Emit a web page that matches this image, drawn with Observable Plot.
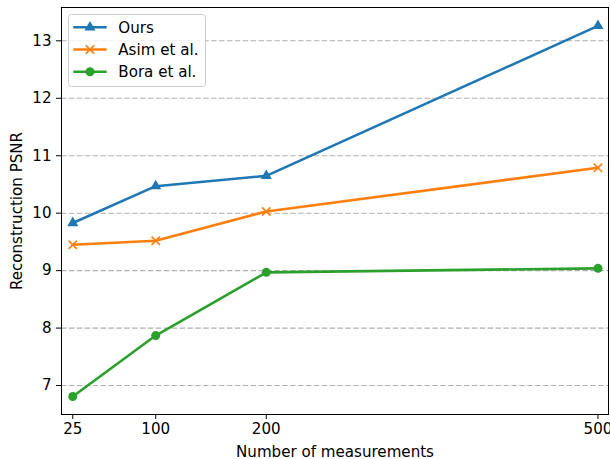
<!DOCTYPE html>
<html><head><meta charset="utf-8">
<script src="https://cdn.jsdelivr.net/npm/d3@7"></script>
<script src="https://cdn.jsdelivr.net/npm/@observablehq/plot@0.6"></script>
<style>
body{margin:0;background:#fff;}
#wrap{position:relative;width:610px;height:459px;font-family:"DejaVu Sans",sans-serif;}
#legend{position:absolute;left:68px;top:14px;}
</style></head><body><div id="wrap"></div>
<script>
const measurements = [25, 100, 200, 500];
const seriesNames = ["Ours", "Asim et al.", "Bora et al."];
const oursPSNR = [9.83, 10.47, 10.65, 13.26];
const asimPSNR = [9.45, 9.52, 10.03, 10.79];
const boraPSNR = [6.81, 7.87, 8.97, 9.04];
const yTicks = [7, 8, 9, 10, 11, 12, 13];
const colors = ["#1f77b4", "#ff7f0e", "#2ca02c"];
const symbols = ["triangle", "times", "circle"];
const radii = [4.1, 3.85, 4.5];

const values = [oursPSNR, asimPSNR, boraPSNR];
const data = seriesNames.flatMap((s, i) => measurements.map((m, j) => ({series: s, x: m, y: values[i][j]})));

const dotMarks = seriesNames.map((s, i) => {
  const sub = data.filter(d => d.series === s);
  return symbols[i] === "times"
    ? Plot.dot(sub, {x: "x", y: "y", symbol: symbols[i], r: radii[i], stroke: colors[i], fill: "none", strokeWidth: 1.6})
    : Plot.dot(sub, {x: "x", y: "y", symbol: symbols[i], r: radii[i], fill: colors[i], stroke: "none"});
});
const lineMarks = seriesNames.map((s, i) =>
  Plot.line(data.filter(d => d.series === s), {x: "x", y: "y", stroke: colors[i], strokeWidth: 2.6}));

const FS = 15.1;
const chart = Plot.plot({
  width: 610, height: 459,
  marginLeft: 61, marginRight: 2, marginTop: 7, marginBottom: 45,
  style: {fontFamily: "'DejaVu Sans', sans-serif", fontSize: FS + "px", background: "white", color: "black"},
  x: {type: "linear", domain: [14.8, 509.5]},
  y: {domain: [6.496, 13.58]},
  marks: [
    Plot.gridY(yTicks, {stroke: "#b0b0b0", strokeOpacity: 1, strokeDasharray: "5.5,2.4", strokeWidth: 1.1}),
    ...seriesNames.flatMap((s, i) => [lineMarks[i], dotMarks[i]]),
    Plot.frame({stroke: "black", strokeWidth: 1}),
    Plot.axisX({ticks: measurements, tickSize: 5, tickPadding: 4, tickFormat: d => String(d), fontSize: FS,
      label: "Number of measurements", labelAnchor: "center", labelArrow: "none", labelOffset: 42}),
    Plot.axisY({ticks: yTicks, tickSize: 5, tickPadding: 5, fontSize: FS,
      label: "Reconstruction PSNR", labelAnchor: "center", labelArrow: "none", labelOffset: 50})
  ]
});
const wrap = document.getElementById("wrap");
wrap.appendChild(chart);

// legend
const lg = d3.create("svg").attr("id", "legend").attr("width", 140).attr("height", 74)
  .style("font-family", "'DejaVu Sans', sans-serif").style("font-size", FS + "px");
lg.append("rect").attr("x", 0.5).attr("y", 0.5).attr("width", 137).attr("height", 72).attr("rx", 3)
  .attr("fill", "white").attr("fill-opacity", 0.8).attr("stroke", "#cccccc");
const symMap = {triangle: d3.symbolTriangle, times: d3.symbolTimes, circle: d3.symbolCircle};
seriesNames.forEach((s, i) => {
  const cy = 13.3 + 22.2 * i;
  const g = lg.append("g");
  g.append("line").attr("x1", 5.3).attr("x2", 38.7).attr("y1", cy).attr("y2", cy)
    .attr("stroke", colors[i]).attr("stroke-width", 2.6);
  const path = d3.symbol(symMap[symbols[i]], Math.PI * radii[i] * radii[i])();
  const p = g.append("path").attr("d", path).attr("transform", `translate(22,${cy})`);
  if (symbols[i] === "times") p.attr("fill", "none").attr("stroke", colors[i]).attr("stroke-width", 1.6);
  else p.attr("fill", colors[i]);
  g.append("text").attr("x", 50.3).attr("y", cy).attr("dy", "0.35em").attr("fill", "black").text(s);
});
wrap.appendChild(lg.node());
</script></body></html>
